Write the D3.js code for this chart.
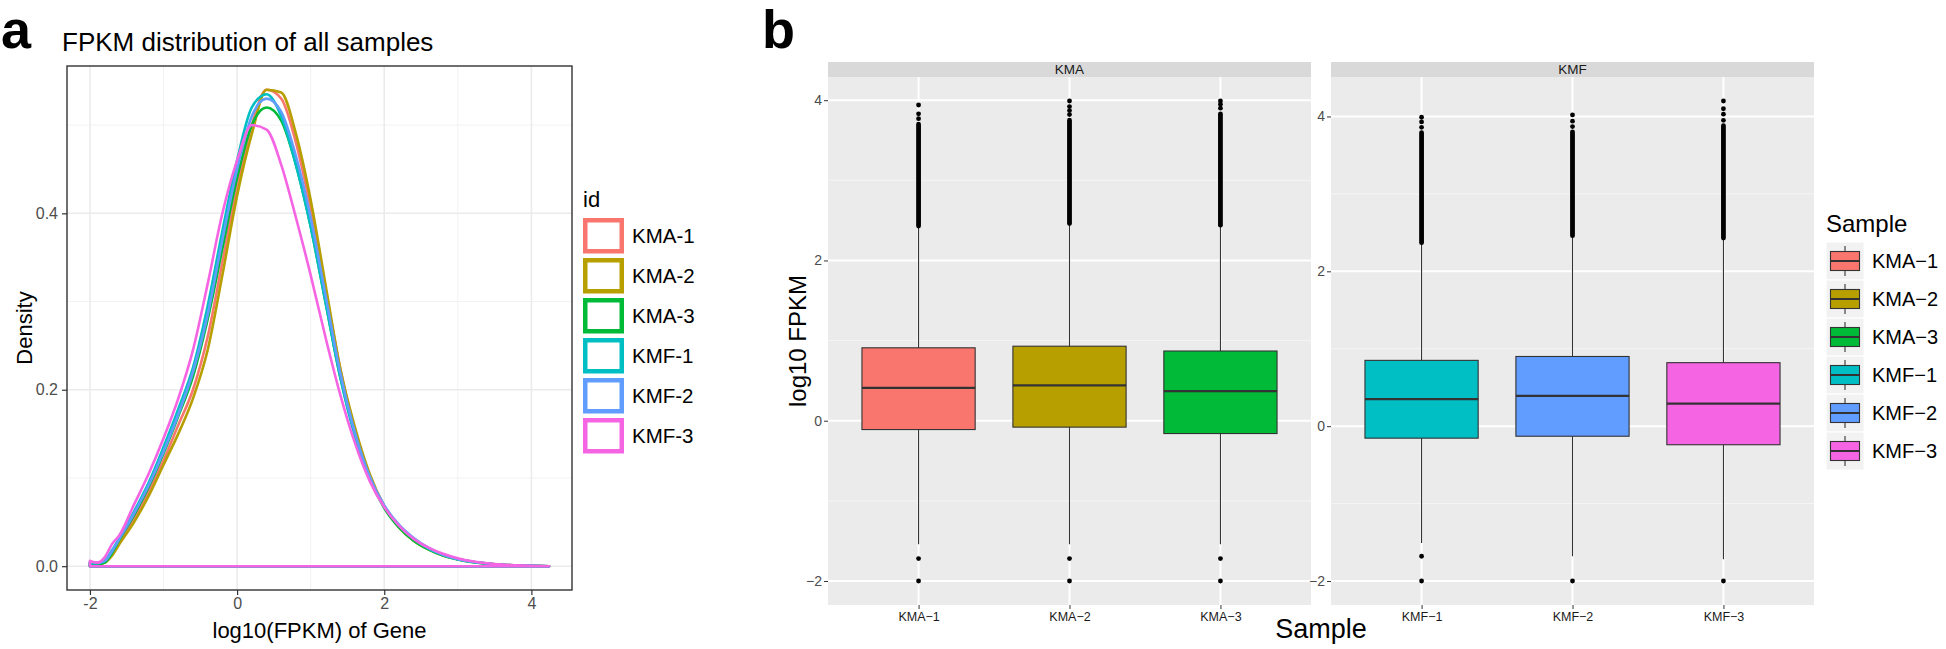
<!DOCTYPE html>
<html>
<head>
<meta charset="utf-8">
<script src="https://cdn.jsdelivr.net/npm/d3@7"></script>
<style>
body { margin: 0; background: #fff; }
svg { display: block; font-family: "Liberation Sans", Arial, Helvetica, sans-serif; }
</style>
</head>
<body>
<script>
// ---- data ----
var samples = ['KMA-1', 'KMA-2', 'KMA-3', 'KMF-1', 'KMF-2', 'KMF-3'];
var sampleGroup = ['KMA', 'KMA', 'KMA', 'KMF', 'KMF', 'KMF'];
var groups = ['KMA', 'KMF'];
var colors = ['#F8766D', '#B79F00', '#00BA38', '#00BFC4', '#619CFF', '#F564E3'];

// panel a: density of log10(FPKM)
var densX = [-2.0, -1.9, -1.8, -1.7, -1.6, -1.4, -1.2, -1.0, -0.8, -0.6, -0.4, -0.2, 0.0, 0.2, 0.4, 0.6, 0.8,
    1.0, 1.2, 1.4, 1.6, 1.8, 2.0, 2.2, 2.4, 2.6, 2.8, 3.0, 3.2, 3.4, 3.6, 3.8, 4.0, 4.24];
var densKMA1 = [0.004, 0.002, 0.005, 0.014, 0.027, 0.055, 0.085, 0.12, 0.16, 0.2, 0.26, 0.345, 0.43, 0.5, 0.54, 0.53, 0.48,
    0.405, 0.315, 0.225, 0.155, 0.103, 0.068, 0.045, 0.03, 0.02, 0.013, 0.008, 0.005, 0.003, 0.0015, 0.0008, 0.0003, 0];
var densKMA2 = [0.003, 0.002, 0.004, 0.012, 0.025, 0.05, 0.08, 0.115, 0.15, 0.19, 0.245, 0.33, 0.42, 0.49, 0.54, 0.537, 0.49,
    0.415, 0.32, 0.225, 0.158, 0.105, 0.068, 0.044, 0.029, 0.019, 0.012, 0.008, 0.005, 0.003, 0.0015, 0.0008, 0.0003, 0];
var densKMA3 = [0.003, 0.002, 0.004, 0.015, 0.03, 0.058, 0.09, 0.128, 0.17, 0.215, 0.28, 0.36, 0.44, 0.5, 0.52, 0.505, 0.455,
    0.385, 0.3, 0.215, 0.15, 0.1, 0.066, 0.044, 0.029, 0.019, 0.012, 0.0075, 0.0045, 0.0028, 0.0015, 0.0008, 0.0003, 0];
var densKMF1 = [0.004, 0.003, 0.006, 0.018, 0.032, 0.062, 0.095, 0.135, 0.178, 0.225, 0.295, 0.38, 0.46, 0.52, 0.535, 0.51, 0.455,
    0.385, 0.3, 0.215, 0.148, 0.1, 0.068, 0.046, 0.031, 0.02, 0.013, 0.008, 0.005, 0.003, 0.0016, 0.0008, 0.0003, 0];
var densKMF2 = [0.005, 0.004, 0.006, 0.017, 0.031, 0.06, 0.092, 0.13, 0.172, 0.22, 0.285, 0.37, 0.45, 0.51, 0.53, 0.515, 0.465,
    0.395, 0.308, 0.22, 0.152, 0.102, 0.069, 0.047, 0.032, 0.021, 0.013, 0.008, 0.005, 0.003, 0.0016, 0.0008, 0.0003, 0];
var densKMF3 = [0.006, 0.004, 0.01, 0.025, 0.035, 0.07, 0.105, 0.145, 0.19, 0.245, 0.32, 0.4, 0.46, 0.5, 0.495, 0.455, 0.395,
    0.33, 0.26, 0.195, 0.14, 0.097, 0.067, 0.046, 0.031, 0.021, 0.014, 0.009, 0.0055, 0.0033, 0.0018, 0.001, 0.0004, 0];
var densAll = [densKMA1, densKMA2, densKMA3, densKMF1, densKMF2, densKMF3];
var densXTicks = [-2, 0, 2, 4];
var densXMinor = [-1, 1, 3];
var densYTicks = [0, 0.2, 0.4];
var densYMinor = [0.1, 0.3, 0.5];

// panel b: boxplot stats of log10 FPKM
var boxQ1 = [-0.11, -0.08, -0.16, -0.155, -0.13, -0.24];
var boxMedian = [0.41, 0.44, 0.37, 0.35, 0.39, 0.29];
var boxQ3 = [0.91, 0.93, 0.87, 0.85, 0.9, 0.82];
var whiskLow = [-1.54, -1.54, -1.54, -1.51, -1.68, -1.72];
var whiskHigh = [2.41, 2.44, 2.42, 2.35, 2.44, 2.41];
var denseTop = [3.7, 3.75, 3.83, 3.79, 3.8, 3.88];   // upper outliers so dense they merge into a bar
var outHigh = [[3.77, 3.83, 3.94], [3.82, 3.87, 3.92, 3.99], [3.9, 3.95, 3.99],
    [3.86, 3.93, 3.99], [3.87, 3.94, 4.02], [3.95, 4.03, 4.1, 4.2]];
var outLow = [[-1.72, -2.0], [-1.72, -2.0], [-1.72, -2.0], [-1.68, -2.0], [-2.0], [-2.0]];
var boxYTicks = [-2, 0, 2, 4];
var boxYMinor = [-1, 1, 3];

(function () {
    var width = 1946,
        height = 649,
        font = '"Liberation Sans", Arial, Helvetica, sans-serif',
        svg, a, b;

    svg = d3.select('body').append('svg')
        .attr('width', width)
        .attr('height', height);

    function minus(s) {
        return String(s).replace('-', '\u2212');
    }

    // ================= panel a =================
    var pa = { left: 67, top: 66, right: 572, bottom: 590 };
    var xr = [d3.min(densX), d3.max(densX)],
        yr = [0, d3.max(densAll, function (d) { return d3.max(d); })];
    var xA = d3.scaleLinear()
        .domain([xr[0] - (xr[1] - xr[0]) * 0.05, xr[1] + (xr[1] - xr[0]) * 0.05])
        .range([pa.left, pa.right]);
    var yA = d3.scaleLinear()
        .domain([-yr[1] * 0.05, yr[1] * 1.05])
        .range([pa.bottom, pa.top]);

    a = svg.append('g');

    a.append('text').attr('x', 1).attr('y', 48)
        .attr('font-size', 54).attr('font-weight', 'bold').text('a');
    a.append('text').attr('x', 62).attr('y', 51)
        .attr('font-size', 26).text('FPKM distribution of all samples');

    // grid
    a.selectAll('.minx').data(densXMinor).enter().append('line')
        .attr('x1', xA).attr('x2', xA).attr('y1', pa.top).attr('y2', pa.bottom)
        .attr('stroke', '#F2F2F2').attr('stroke-width', 1);
    a.selectAll('.miny').data(densYMinor).enter().append('line')
        .attr('y1', yA).attr('y2', yA).attr('x1', pa.left).attr('x2', pa.right)
        .attr('stroke', '#F2F2F2').attr('stroke-width', 1);
    a.selectAll('.majx').data(densXTicks).enter().append('line')
        .attr('x1', xA).attr('x2', xA).attr('y1', pa.top).attr('y2', pa.bottom)
        .attr('stroke', '#EBEBEB').attr('stroke-width', 1.6);
    a.selectAll('.majy').data(densYTicks).enter().append('line')
        .attr('y1', yA).attr('y2', yA).attr('x1', pa.left).attr('x2', pa.right)
        .attr('stroke', '#EBEBEB').attr('stroke-width', 1.6);

    // density outlines, closed along the baseline like geom_density
    var line = d3.line()
        .x(function (d) { return xA(d[0]); })
        .y(function (d) { return yA(d[1]); })
        .curve(d3.curveMonotoneX);
    a.selectAll('.dens').data(densAll).enter().append('path')
        .attr('d', function (d) {
            var pts = densX.map(function (x, i) { return [x, d[i]]; });
            return line(pts) + 'L' + xA(densX[0]) + ',' + yA(0) + 'Z';
        })
        .attr('fill', 'none')
        .attr('stroke', function (d, i) { return colors[i]; })
        .attr('stroke-width', 2.6)
        .attr('stroke-linejoin', 'round');

    a.append('rect')
        .attr('x', pa.left).attr('y', pa.top)
        .attr('width', pa.right - pa.left).attr('height', pa.bottom - pa.top)
        .attr('fill', 'none').attr('stroke', '#333333').attr('stroke-width', 1.4);

    var axA = a.append('g').attr('transform', 'translate(0,' + pa.bottom + ')')
        .call(d3.axisBottom(xA).tickValues(densXTicks).tickSize(5).tickPadding(3)
            .tickFormat(function (d) { return String(d); }));
    var ayA = a.append('g').attr('transform', 'translate(' + pa.left + ',0)')
        .call(d3.axisLeft(yA).tickValues(densYTicks).tickSize(5).tickPadding(4)
            .tickFormat(d3.format('.1f')));
    [axA, ayA].forEach(function (g) {
        g.select('.domain').remove();
        g.selectAll('line').attr('stroke', '#333333').attr('stroke-width', 1.2);
        g.selectAll('text').attr('fill', '#4D4D4D').attr('font-size', 16).attr('font-family', font);
    });

    a.append('text').attr('x', (pa.left + pa.right) / 2).attr('y', 638)
        .attr('text-anchor', 'middle').attr('font-size', 22).text('log10(FPKM) of Gene');
    a.append('text')
        .attr('transform', 'translate(32,' + (pa.top + pa.bottom) / 2 + ') rotate(-90)')
        .attr('text-anchor', 'middle').attr('font-size', 22).text('Density');

    // legend a
    var lega = a.append('g').attr('transform', 'translate(583,0)');
    lega.append('text').attr('x', 0).attr('y', 207).attr('font-size', 22).text('id');
    var itemA = lega.selectAll('.item').data(samples).enter().append('g')
        .attr('transform', function (d, i) { return 'translate(0,' + (218 + i * 40) + ')'; });
    itemA.append('rect')
        .attr('x', 2.25).attr('y', 2.25).attr('width', 36.5).attr('height', 31)
        .attr('fill', '#fff')
        .attr('stroke', function (d, i) { return colors[i]; })
        .attr('stroke-width', 4.5);
    itemA.append('text').attr('x', 49).attr('y', 25).attr('font-size', 20.5)
        .text(function (d) { return d; });

    // ================= panel b =================
    var pb = { top: 77, bottom: 605, strip: 15, width: 483 },
        panelX = [828, 1331];

    b = svg.append('g');
    b.append('text').attr('x', 762).attr('y', 48)
        .attr('font-size', 54).attr('font-weight', 'bold').text('b');

    groups.forEach(function (g, gi) {
        var idx = d3.range(samples.length).filter(function (i) { return sampleGroup[i] === g; }),
            x0 = panelX[gi],
            x1 = x0 + pb.width,
            lo = d3.min(idx, function (i) { return d3.min(outLow[i].concat([whiskLow[i]])); }),
            hi = d3.max(idx, function (i) { return d3.max(outHigh[i].concat([denseTop[i]])); }),
            pad = (hi - lo) * 0.05;

        var y = d3.scaleLinear().domain([lo - pad, hi + pad]).range([pb.bottom, pb.top]);
        var x = d3.scalePoint().domain(idx.map(function (i) { return samples[i]; }))
            .range([x0, x1]).padding(0.6);
        var bw = x.step() * 0.75;

        var p = b.append('g');
        p.append('rect').attr('x', x0).attr('y', pb.top)
            .attr('width', pb.width).attr('height', pb.bottom - pb.top).attr('fill', '#EBEBEB');
        p.append('rect').attr('x', x0).attr('y', pb.top - pb.strip)
            .attr('width', pb.width).attr('height', pb.strip).attr('fill', '#D9D9D9');
        p.append('text').attr('x', (x0 + x1) / 2).attr('y', pb.top - 3)
            .attr('text-anchor', 'middle').attr('font-size', 13.5).attr('fill', '#1A1A1A').text(g);

        p.selectAll('.miny').data(boxYMinor.filter(function (v) { return v > y.domain()[0] && v < y.domain()[1]; }))
            .enter().append('line')
            .attr('x1', x0).attr('x2', x1).attr('y1', y).attr('y2', y)
            .attr('stroke', '#F5F5F5').attr('stroke-width', 1);
        p.selectAll('.majy').data(boxYTicks).enter().append('line')
            .attr('x1', x0).attr('x2', x1).attr('y1', y).attr('y2', y)
            .attr('stroke', '#fff').attr('stroke-width', 2);
        p.selectAll('.majx').data(x.domain()).enter().append('line')
            .attr('x1', x).attr('x2', x).attr('y1', pb.top).attr('y2', pb.bottom)
            .attr('stroke', '#fff').attr('stroke-width', 2);

        var box = p.selectAll('.box').data(idx).enter().append('g');
        box.append('line')
            .attr('x1', function (i) { return x(samples[i]); })
            .attr('x2', function (i) { return x(samples[i]); })
            .attr('y1', function (i) { return y(whiskHigh[i]); })
            .attr('y2', function (i) { return y(whiskLow[i]); })
            .attr('stroke', '#333333').attr('stroke-width', 1.1);
        box.append('rect')
            .attr('x', function (i) { return x(samples[i]) - bw / 2; })
            .attr('y', function (i) { return y(boxQ3[i]); })
            .attr('width', bw)
            .attr('height', function (i) { return y(boxQ1[i]) - y(boxQ3[i]); })
            .attr('fill', function (i) { return colors[i]; })
            .attr('stroke', '#333333').attr('stroke-width', 1.1);
        box.append('line')
            .attr('x1', function (i) { return x(samples[i]) - bw / 2; })
            .attr('x2', function (i) { return x(samples[i]) + bw / 2; })
            .attr('y1', function (i) { return y(boxMedian[i]); })
            .attr('y2', function (i) { return y(boxMedian[i]); })
            .attr('stroke', '#333333').attr('stroke-width', 2.2);
        // dense run of outliers
        box.append('line')
            .attr('x1', function (i) { return x(samples[i]); })
            .attr('x2', function (i) { return x(samples[i]); })
            .attr('y1', function (i) { return y(whiskHigh[i] + 0.02); })
            .attr('y2', function (i) { return y(denseTop[i]); })
            .attr('stroke', '#000').attr('stroke-width', 4.8).attr('stroke-linecap', 'round');
        box.each(function (i) {
            d3.select(this).selectAll('circle').data(outHigh[i].concat(outLow[i])).enter().append('circle')
                .attr('cx', x(samples[i])).attr('cy', y).attr('r', 2.4).attr('fill', '#000');
        });

        var ay = p.append('g').attr('transform', 'translate(' + x0 + ',0)')
            .call(d3.axisLeft(y).tickValues(boxYTicks).tickSize(4).tickPadding(2).tickFormat(minus));
        var ax = p.append('g').attr('transform', 'translate(0,' + pb.bottom + ')')
            .call(d3.axisBottom(x).tickSize(4).tickPadding(3).tickFormat(minus));
        [ay, ax].forEach(function (s) {
            s.select('.domain').remove();
            s.selectAll('line').attr('stroke', '#333333').attr('stroke-width', 1);
            s.selectAll('text').attr('fill', '#4D4D4D').attr('font-family', font);
        });
        ay.selectAll('text').attr('font-size', 14);
        ax.selectAll('text').attr('font-size', 12.5).attr('fill', '#1A1A1A');
    });

    b.append('text').attr('x', (panelX[0] + panelX[1] + pb.width) / 2).attr('y', 638)
        .attr('text-anchor', 'middle').attr('font-size', 27).text('Sample');
    b.append('text')
        .attr('transform', 'translate(806,' + (pb.top + pb.bottom) / 2 + ') rotate(-90)')
        .attr('text-anchor', 'middle').attr('font-size', 24).text('log10 FPKM');

    // legend b
    var legb = b.append('g').attr('transform', 'translate(1826,0)');
    legb.append('text').attr('x', 0).attr('y', 232).attr('font-size', 24).text('Sample');
    var itemB = legb.selectAll('.item').data(samples).enter().append('g')
        .attr('transform', function (d, i) { return 'translate(0,' + (242 + i * 38) + ')'; });
    itemB.append('rect').attr('width', 38).attr('height', 38)
        .attr('fill', '#F2F2F2').attr('stroke', '#fff').attr('stroke-width', 1);
    itemB.append('line').attr('x1', 19).attr('x2', 19).attr('y1', 4).attr('y2', 34)
        .attr('stroke', '#333333').attr('stroke-width', 1.1);
    itemB.append('rect').attr('x', 4.5).attr('y', 9.5).attr('width', 29).attr('height', 19)
        .attr('fill', function (d, i) { return colors[i]; })
        .attr('stroke', '#333333').attr('stroke-width', 1.1);
    itemB.append('line').attr('x1', 4.5).attr('x2', 33.5).attr('y1', 19).attr('y2', 19)
        .attr('stroke', '#333333').attr('stroke-width', 2);
    itemB.append('text').attr('x', 46).attr('y', 26).attr('font-size', 20)
        .text(function (d) { return minus(d); });
}());
</script>
</body>
</html>
